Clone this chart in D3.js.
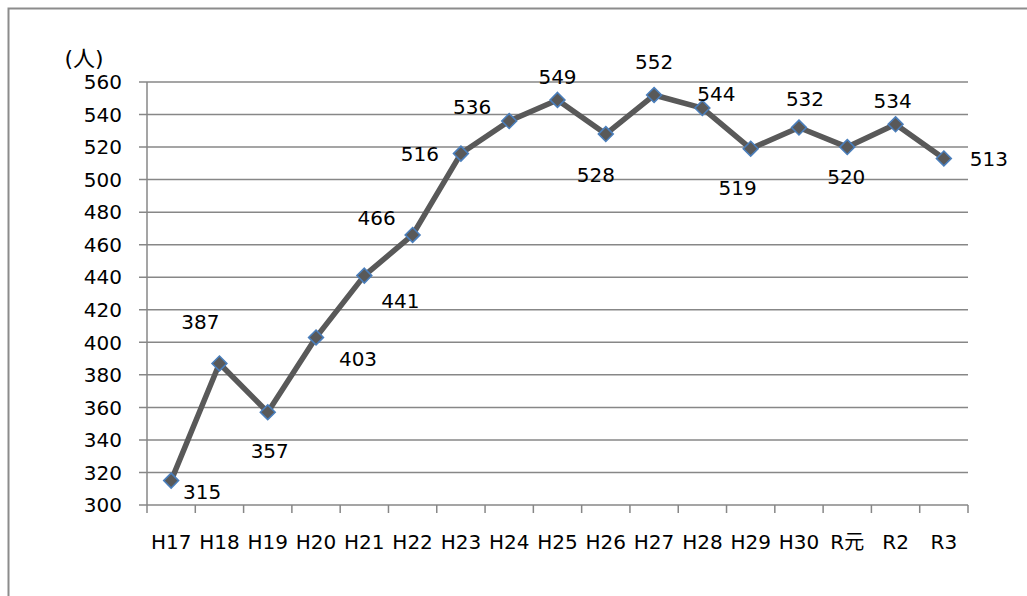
<!DOCTYPE html>
<html>
<head>
<meta charset="utf-8">
<script src="https://cdn.jsdelivr.net/npm/d3@7"></script>
<style>
  html, body { margin: 0; padding: 0; background: #ffffff; }
  svg { display: block; }
  text { font-family: "DejaVu Sans", "Noto Sans CJK JP", sans-serif; font-size: 20px; fill: #000; }
</style>
</head>
<body>
<svg id="chart" width="1027" height="596"></svg>
<script>
// Annual counts (人), H17 through R3
const categories = ["H17","H18","H19","H20","H21","H22","H23","H24","H25","H26","H27","H28","H29","H30","R元","R2","R3"];
const values = [315, 387, 357, 403, 441, 466, 516, 536, 549, 528, 552, 544, 519, 532, 520, 534, 513];
const yTicks = [300, 320, 340, 360, 380, 400, 420, 440, 460, 480, 500, 520, 540, 560];
const unitLabel = "(人)";

// Offset of each value label from its marker (px)
const labelOffsets = [
  [31, 11], [-19, -42], [2, 39], [42, 21], [36, 25], [-36, -17], [-41, 0], [-37, -14],
  [0, -23], [-10, 41], [0, -33], [14, -14], [-13, 39], [6, -29], [-1, 30], [-3, -24], [45, 0]
];

const svg = d3.select("#chart");
const plotLeft = 147, plotRight = 968, plotTop = 82, plotBottom = 505;
const gridColor = "#878787";

// outer frame
svg.append("rect")
  .attr("x", 8.5).attr("y", 8.5)
  .attr("width", 1040).attr("height", 620)
  .attr("fill", "none").attr("stroke", "#8c8c8c").attr("stroke-width", 2);

const x = d3.scaleBand().domain(categories).range([plotLeft, plotRight]);
const y = d3.scaleLinear().domain([300, 560]).range([plotBottom, plotTop]);

// horizontal gridlines with left tick marks
svg.append("g")
  .selectAll("line")
  .data(yTicks)
  .join("line")
  .attr("x1", plotLeft - 8).attr("x2", plotRight)
  .attr("y1", d => y(d)).attr("y2", d => y(d))
  .attr("stroke", gridColor).attr("stroke-width", 1.5);

// y axis line
svg.append("line")
  .attr("x1", plotLeft).attr("x2", plotLeft)
  .attr("y1", plotTop).attr("y2", plotBottom)
  .attr("stroke", gridColor).attr("stroke-width", 1.5);

// x axis tick marks at band boundaries
const bounds = categories.map(c => x(c)).concat([plotRight]);
svg.append("g")
  .selectAll("line")
  .data(bounds)
  .join("line")
  .attr("x1", d => d).attr("x2", d => d)
  .attr("y1", plotBottom).attr("y2", plotBottom + 8)
  .attr("stroke", gridColor).attr("stroke-width", 1.5);

// y tick labels
svg.append("g")
  .selectAll("text")
  .data(yTicks)
  .join("text")
  .attr("x", 122)
  .attr("y", d => y(d))
  .attr("dy", "0.36em")
  .attr("text-anchor", "end")
  .text(d => d);

// unit label
svg.append("text")
  .attr("x", 84).attr("y", 58)
  .attr("dy", "0.36em")
  .attr("text-anchor", "middle")
  .style("font-size", "22px")
  .text(unitLabel);

// x category labels
svg.append("g")
  .selectAll("text")
  .data(categories)
  .join("text")
  .attr("x", d => x(d) + x.bandwidth() / 2)
  .attr("y", 549)
  .attr("text-anchor", "middle")
  .text(d => d);

// series line
const pts = categories.map((c, i) => ({ c, v: values[i], i }));
const line = d3.line()
  .x(d => x(d.c) + x.bandwidth() / 2)
  .y(d => y(d.v));

svg.append("path")
  .datum(pts)
  .attr("d", line)
  .attr("fill", "none")
  .attr("stroke", "#595959")
  .attr("stroke-width", 5.5)
  .attr("stroke-linejoin", "round");

// diamond markers
const diamond = d3.symbol().type(d3.symbolDiamond2).size(140);
svg.append("g")
  .selectAll("path")
  .data(pts)
  .join("path")
  .attr("d", diamond)
  .attr("transform", d => `translate(${x(d.c) + x.bandwidth() / 2},${y(d.v)})`)
  .attr("fill", "#595959")
  .attr("stroke", "#4a7ebb")
  .attr("stroke-width", 1.6);

// value labels
svg.append("g")
  .selectAll("text")
  .data(pts)
  .join("text")
  .attr("x", d => x(d.c) + x.bandwidth() / 2 + labelOffsets[d.i][0])
  .attr("y", d => y(d.v) + labelOffsets[d.i][1])
  .attr("dy", "0.36em")
  .attr("text-anchor", "middle")
  .text(d => d.v);
</script>
</body>
</html>
